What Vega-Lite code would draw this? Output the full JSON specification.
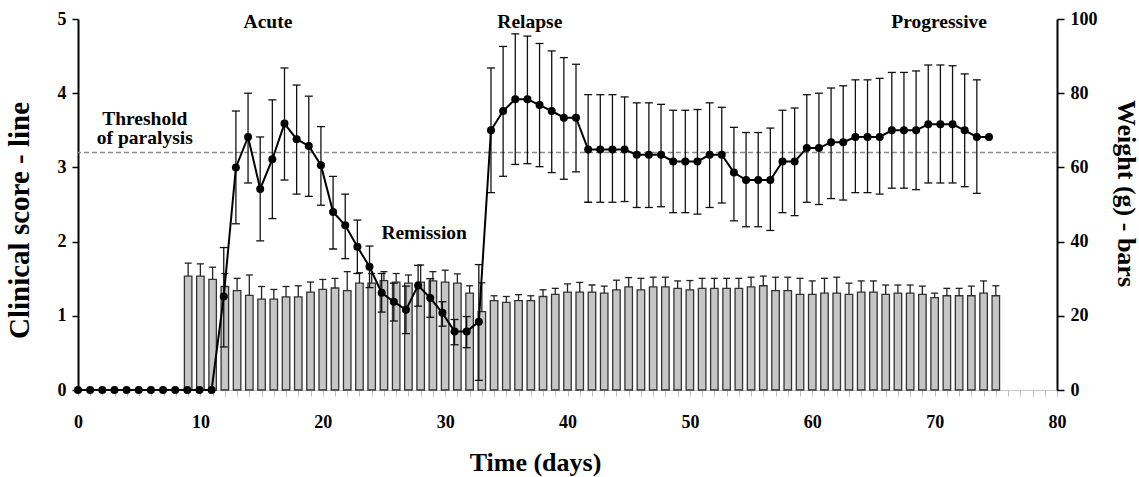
{
  "$schema": "https://vega.github.io/schema/vega-lite/v6.json",
  "width": 979,
  "height": 371,
  "autosize": {"type": "none"},
  "padding": {"left": 78, "top": 19, "right": 82, "bottom": 87},
  "background": "white",
  "config": {
    "view": {"stroke": null},
    "axis": {
      "grid": false,
      "labelFont": "Liberation Serif",
      "titleFont": "Liberation Serif",
      "labelFontWeight": "bold",
      "titleFontWeight": "bold",
      "labelColor": "#000",
      "titleColor": "#000",
      "labelFontSize": 18,
      "titleFontSize": 26
    }
  },
  "datasets": {
    "score": [
      {"day": 0, "score": 0, "lo": null, "hi": null},
      {"day": 1, "score": 0, "lo": null, "hi": null},
      {"day": 2, "score": 0, "lo": null, "hi": null},
      {"day": 3, "score": 0, "lo": null, "hi": null},
      {"day": 4, "score": 0, "lo": null, "hi": null},
      {"day": 5, "score": 0, "lo": null, "hi": null},
      {"day": 6, "score": 0, "lo": null, "hi": null},
      {"day": 7, "score": 0, "lo": null, "hi": null},
      {"day": 8, "score": 0, "lo": null, "hi": null},
      {"day": 9, "score": 0, "lo": null, "hi": null},
      {"day": 10, "score": 0, "lo": null, "hi": null},
      {"day": 11, "score": 0, "lo": null, "hi": null},
      {"day": 12, "score": 1.26, "lo": 0.58, "hi": 1.92},
      {"day": 13, "score": 3.0, "lo": 2.24, "hi": 3.76},
      {"day": 14, "score": 3.41, "lo": 2.79, "hi": 4.0},
      {"day": 15, "score": 2.71, "lo": 2.01, "hi": 3.41},
      {"day": 16, "score": 3.11, "lo": 2.31, "hi": 3.91},
      {"day": 17, "score": 3.59, "lo": 2.83, "hi": 4.34},
      {"day": 18, "score": 3.38, "lo": 2.64, "hi": 4.11},
      {"day": 19, "score": 3.29, "lo": 2.61, "hi": 3.96},
      {"day": 20, "score": 3.03, "lo": 2.49, "hi": 3.55},
      {"day": 21, "score": 2.4, "lo": 1.9, "hi": 2.88},
      {"day": 22, "score": 2.22, "lo": 1.77, "hi": 2.64},
      {"day": 23, "score": 1.93, "lo": 1.57, "hi": 2.29},
      {"day": 24, "score": 1.66, "lo": 1.38, "hi": 1.94},
      {"day": 25, "score": 1.31, "lo": 1.05, "hi": 1.57},
      {"day": 26, "score": 1.19, "lo": 0.93, "hi": 1.44},
      {"day": 27, "score": 1.08, "lo": 0.76, "hi": 1.4},
      {"day": 28, "score": 1.41, "lo": 1.13, "hi": 1.68},
      {"day": 29, "score": 1.24, "lo": 0.98, "hi": 1.5},
      {"day": 30, "score": 1.04, "lo": 0.86, "hi": 1.19},
      {"day": 31, "score": 0.79, "lo": 0.61, "hi": 0.95},
      {"day": 32, "score": 0.79, "lo": 0.57, "hi": 0.99},
      {"day": 33, "score": 0.92, "lo": 0.13, "hi": 1.69},
      {"day": 34, "score": 3.5, "lo": 2.66, "hi": 4.34},
      {"day": 35, "score": 3.76, "lo": 2.88, "hi": 4.63},
      {"day": 36, "score": 3.92, "lo": 3.04, "hi": 4.8},
      {"day": 37, "score": 3.92, "lo": 3.05, "hi": 4.77},
      {"day": 38, "score": 3.84, "lo": 3.01, "hi": 4.67},
      {"day": 39, "score": 3.76, "lo": 2.93, "hi": 4.57},
      {"day": 40, "score": 3.67, "lo": 2.84, "hi": 4.48},
      {"day": 41, "score": 3.67, "lo": 2.94, "hi": 4.39},
      {"day": 42, "score": 3.24, "lo": 2.53, "hi": 3.98},
      {"day": 43, "score": 3.24, "lo": 2.53, "hi": 3.98},
      {"day": 44, "score": 3.24, "lo": 2.53, "hi": 3.98},
      {"day": 45, "score": 3.24, "lo": 2.54, "hi": 3.95},
      {"day": 46, "score": 3.17, "lo": 2.46, "hi": 3.87},
      {"day": 47, "score": 3.17, "lo": 2.46, "hi": 3.87},
      {"day": 48, "score": 3.17, "lo": 2.47, "hi": 3.85},
      {"day": 49, "score": 3.08, "lo": 2.39, "hi": 3.77},
      {"day": 50, "score": 3.08, "lo": 2.39, "hi": 3.77},
      {"day": 51, "score": 3.08, "lo": 2.37, "hi": 3.78},
      {"day": 52, "score": 3.17, "lo": 2.46, "hi": 3.87},
      {"day": 53, "score": 3.17, "lo": 2.52, "hi": 3.81},
      {"day": 54, "score": 2.93, "lo": 2.28, "hi": 3.54},
      {"day": 55, "score": 2.83, "lo": 2.2, "hi": 3.47},
      {"day": 56, "score": 2.83, "lo": 2.2, "hi": 3.47},
      {"day": 57, "score": 2.83, "lo": 2.15, "hi": 3.53},
      {"day": 58, "score": 3.08, "lo": 2.39, "hi": 3.77},
      {"day": 59, "score": 3.08, "lo": 2.35, "hi": 3.8},
      {"day": 60, "score": 3.26, "lo": 2.53, "hi": 3.98},
      {"day": 61, "score": 3.26, "lo": 2.5, "hi": 4.0},
      {"day": 62, "score": 3.34, "lo": 2.58, "hi": 4.07},
      {"day": 63, "score": 3.34, "lo": 2.56, "hi": 4.1},
      {"day": 64, "score": 3.41, "lo": 2.66, "hi": 4.18},
      {"day": 65, "score": 3.41, "lo": 2.66, "hi": 4.18},
      {"day": 66, "score": 3.41, "lo": 2.64, "hi": 4.2},
      {"day": 67, "score": 3.5, "lo": 2.72, "hi": 4.28},
      {"day": 68, "score": 3.5, "lo": 2.72, "hi": 4.28},
      {"day": 69, "score": 3.5, "lo": 2.7, "hi": 4.3},
      {"day": 70, "score": 3.58, "lo": 2.79, "hi": 4.38},
      {"day": 71, "score": 3.58, "lo": 2.79, "hi": 4.38},
      {"day": 72, "score": 3.58, "lo": 2.79, "hi": 4.37},
      {"day": 73, "score": 3.5, "lo": 2.74, "hi": 4.26},
      {"day": 74, "score": 3.41, "lo": 2.65, "hi": 4.18},
      {"day": 75, "score": 3.41, "lo": null, "hi": null}
    ],
    "weight": [
      {"day": 9, "weight": 30.7, "top": 34.2},
      {"day": 10, "weight": 30.7, "top": 34.0},
      {"day": 11, "weight": 29.8, "top": 33.1},
      {"day": 12, "weight": 27.9, "top": 31.4},
      {"day": 13, "weight": 26.8, "top": 30.1},
      {"day": 14, "weight": 25.5, "top": 31.0},
      {"day": 15, "weight": 24.5, "top": 27.9},
      {"day": 16, "weight": 24.5, "top": 27.1},
      {"day": 17, "weight": 25.1, "top": 27.9},
      {"day": 18, "weight": 25.1, "top": 28.1},
      {"day": 19, "weight": 26.4, "top": 29.1},
      {"day": 20, "weight": 27.1, "top": 29.8},
      {"day": 21, "weight": 27.5, "top": 30.1},
      {"day": 22, "weight": 26.8, "top": 31.9},
      {"day": 23, "weight": 28.8, "top": 31.6},
      {"day": 24, "weight": 28.8, "top": 31.4},
      {"day": 25, "weight": 29.5, "top": 31.9},
      {"day": 26, "weight": 29.1, "top": 31.4},
      {"day": 27, "weight": 28.8, "top": 31.0},
      {"day": 28, "weight": 29.1, "top": 33.7},
      {"day": 29, "weight": 29.4, "top": 31.9},
      {"day": 30, "weight": 29.1, "top": 32.3},
      {"day": 31, "weight": 28.8, "top": 31.3},
      {"day": 32, "weight": 26.1, "top": 28.1},
      {"day": 33, "weight": 21.1, "top": 28.9},
      {"day": 34, "weight": 24.1, "top": 25.4},
      {"day": 35, "weight": 23.6, "top": 25.2},
      {"day": 36, "weight": 24.1, "top": 25.7},
      {"day": 37, "weight": 24.1, "top": 25.4},
      {"day": 38, "weight": 25.2, "top": 27.0},
      {"day": 39, "weight": 25.8, "top": 27.4},
      {"day": 40, "weight": 26.4, "top": 28.6},
      {"day": 41, "weight": 26.4, "top": 29.0},
      {"day": 42, "weight": 26.4, "top": 28.3},
      {"day": 43, "weight": 26.1, "top": 28.0},
      {"day": 44, "weight": 27.0, "top": 29.6},
      {"day": 45, "weight": 27.8, "top": 30.3},
      {"day": 46, "weight": 27.0, "top": 30.1},
      {"day": 47, "weight": 27.8, "top": 30.4},
      {"day": 48, "weight": 27.8, "top": 30.4},
      {"day": 49, "weight": 27.4, "top": 29.4},
      {"day": 50, "weight": 27.0, "top": 29.5},
      {"day": 51, "weight": 27.4, "top": 30.1},
      {"day": 52, "weight": 27.4, "top": 30.1},
      {"day": 53, "weight": 27.4, "top": 30.1},
      {"day": 54, "weight": 27.4, "top": 30.1},
      {"day": 55, "weight": 27.8, "top": 30.4},
      {"day": 56, "weight": 28.1, "top": 30.7},
      {"day": 57, "weight": 26.8, "top": 30.4},
      {"day": 58, "weight": 26.8, "top": 30.4},
      {"day": 59, "weight": 25.8, "top": 30.1},
      {"day": 60, "weight": 25.8, "top": 29.4},
      {"day": 61, "weight": 26.1, "top": 30.1},
      {"day": 62, "weight": 26.1, "top": 30.4},
      {"day": 63, "weight": 25.8, "top": 28.8},
      {"day": 64, "weight": 26.4, "top": 29.4},
      {"day": 65, "weight": 26.4, "top": 29.4},
      {"day": 66, "weight": 25.8, "top": 28.3},
      {"day": 67, "weight": 26.1, "top": 28.3},
      {"day": 68, "weight": 26.1, "top": 28.3},
      {"day": 69, "weight": 25.8, "top": 28.0},
      {"day": 70, "weight": 24.9, "top": 26.1},
      {"day": 71, "weight": 25.4, "top": 27.4},
      {"day": 72, "weight": 25.4, "top": 27.4},
      {"day": 73, "weight": 25.4, "top": 28.0},
      {"day": 74, "weight": 26.1, "top": 29.4},
      {"day": 75, "weight": 25.4, "top": 28.1}
    ]
  },
  "layer": [
    {
      "data": {"name": "weight"},
      "layer": [
        {
          "mark": {"type": "bar", "size": 7.5, "fill": "#c6c6c6", "stroke": "#333333", "strokeWidth": 1.3},
          "encoding": {
            "x": {
              "field": "day", "type": "quantitative",
              "scale": {"domain": [0, 80], "nice": false, "zero": false, "padding": 0},
              "title": "Time (days)",
              "axis": {
                "orient": "bottom", "tickCount": 80, "format": "d",
                "labelExpr": "datum.value % 10 === 0 ? datum.label : ''",
                "labelOverlap": false, "labelFlush": false, "labelBound": false,
                "domainColor": "#c8c8c8", "domainWidth": 1,
                "tickColor": "#bdbdbd", "tickSize": 6, "tickWidth": 1,
                "labelPadding": 17,
                "titleX": 457, "titleY": 80, "titleBaseline": "alphabetic", "titleAlign": "center"
              }
            },
            "y": {
              "field": "weight", "type": "quantitative",
              "scale": {"domain": [0, 100], "nice": false},
              "title": "Weight (g) - bars",
              "axis": {
                "orient": "right", "values": [0, 20, 40, 60, 80, 100], "format": "d",
                "domainColor": "#000", "domainWidth": 2,
                "tickColor": "#000", "tickWidth": 1.5, "tickSize": 7,
                "labelPadding": 6,
                "titleAngle": 90, "titleX": 68, "titleY": 174,
                "titleBaseline": "middle", "titleAlign": "center"
              }
            }
          }
        },
        {
          "mark": {"type": "rule", "color": "#222222", "strokeWidth": 1.3},
          "encoding": {
            "x": {"field": "day", "type": "quantitative", "scale": {"domain": [0, 80], "nice": false, "zero": false, "padding": 0}, "title": "Time (days)"},
            "y": {"field": "weight", "type": "quantitative", "scale": {"domain": [0, 100], "nice": false}, "title": "Weight (g) - bars"},
            "y2": {"field": "top"}
          }
        },
        {
          "mark": {"type": "tick", "orient": "horizontal", "size": 7, "thickness": 1.3, "color": "#222222", "opacity": 1},
          "encoding": {
            "x": {"field": "day", "type": "quantitative", "scale": {"domain": [0, 80], "nice": false, "zero": false, "padding": 0}, "title": "Time (days)"},
            "y": {"field": "top", "type": "quantitative", "scale": {"domain": [0, 100], "nice": false}, "title": "Weight (g) - bars"}
          }
        }
      ]
    },
    {
      "data": {"name": "score"},
      "layer": [
        {
          "data": {"values": [{}]},
          "mark": {"type": "rule", "stroke": "#8c8c8c", "strokeWidth": 1.4, "strokeDash": [5, 3]},
          "encoding": {
            "y": {"datum": 3.2, "type": "quantitative", "scale": {"domain": [0, 5], "nice": false}, "title": "Clinical score - line"}
          }
        },
        {
          "mark": {"type": "rule", "color": "#111111", "strokeWidth": 1.3},
          "encoding": {
            "x": {"field": "day", "type": "quantitative", "scale": {"domain": [0, 80.6], "nice": false, "zero": false, "padding": 0}, "axis": null},
            "y": {"field": "lo", "type": "quantitative", "scale": {"domain": [0, 5], "nice": false}, "title": "Clinical score - line"},
            "y2": {"field": "hi"}
          }
        },
        {
          "mark": {"type": "tick", "orient": "horizontal", "size": 8, "thickness": 1.3, "color": "#111111", "opacity": 1},
          "encoding": {
            "x": {"field": "day", "type": "quantitative", "scale": {"domain": [0, 80.6], "nice": false, "zero": false, "padding": 0}, "axis": null},
            "y": {"field": "lo", "type": "quantitative", "scale": {"domain": [0, 5], "nice": false}, "title": "Clinical score - line"}
          }
        },
        {
          "mark": {"type": "tick", "orient": "horizontal", "size": 8, "thickness": 1.3, "color": "#111111", "opacity": 1},
          "encoding": {
            "x": {"field": "day", "type": "quantitative", "scale": {"domain": [0, 80.6], "nice": false, "zero": false, "padding": 0}, "axis": null},
            "y": {"field": "hi", "type": "quantitative", "scale": {"domain": [0, 5], "nice": false}, "title": "Clinical score - line"}
          }
        },
        {
          "mark": {"type": "line", "color": "#000", "strokeWidth": 2},
          "encoding": {
            "x": {"field": "day", "type": "quantitative", "scale": {"domain": [0, 80.6], "nice": false, "zero": false, "padding": 0}, "axis": null},
            "y": {
              "field": "score", "type": "quantitative",
              "scale": {"domain": [0, 5], "nice": false},
              "title": "Clinical score - line",
              "axis": {
                "orient": "left", "values": [0, 1, 2, 3, 4, 5], "format": "d",
                "domainColor": "#000", "domainWidth": 2,
                "tickColor": "#000", "tickWidth": 1.5, "tickSize": 6,
                "labelPadding": 6,
                "titleFontSize": 29,
                "titleAngle": 270, "titleX": -59, "titleY": 201,
                "titleBaseline": "middle", "titleAlign": "center"
              }
            }
          }
        },
        {
          "mark": {"type": "point", "filled": true, "color": "#000", "size": 64, "opacity": 1},
          "encoding": {
            "x": {"field": "day", "type": "quantitative", "scale": {"domain": [0, 80.6], "nice": false, "zero": false, "padding": 0}, "axis": null},
            "y": {"field": "score", "type": "quantitative", "scale": {"domain": [0, 5], "nice": false}, "title": "Clinical score - line"}
          }
        },
        {
          "data": {"values": [{}]},
          "mark": {"type": "text", "text": "Acute", "font": "Liberation Serif", "fontWeight": "bold", "fontSize": 19.5, "align": "center", "baseline": "alphabetic", "color": "#000"},
          "encoding": {
            "x": {"datum": 15.64, "type": "quantitative", "axis": null},
            "y": {"datum": 4.88, "type": "quantitative", "title": "Clinical score - line"}
          }
        },
        {
          "data": {"values": [{}]},
          "mark": {"type": "text", "text": "Relapse", "font": "Liberation Serif", "fontWeight": "bold", "fontSize": 19.5, "align": "center", "baseline": "alphabetic", "color": "#000"},
          "encoding": {
            "x": {"datum": 37.2, "type": "quantitative", "axis": null},
            "y": {"datum": 4.88, "type": "quantitative", "title": "Clinical score - line"}
          }
        },
        {
          "data": {"values": [{}]},
          "mark": {"type": "text", "text": "Progressive", "font": "Liberation Serif", "fontWeight": "bold", "fontSize": 19.5, "align": "center", "baseline": "alphabetic", "color": "#000"},
          "encoding": {
            "x": {"datum": 70.9, "type": "quantitative", "axis": null},
            "y": {"datum": 4.88, "type": "quantitative", "title": "Clinical score - line"}
          }
        },
        {
          "data": {"values": [{}]},
          "mark": {"type": "text", "text": "Remission", "font": "Liberation Serif", "fontWeight": "bold", "fontSize": 19.5, "align": "center", "baseline": "alphabetic", "color": "#000"},
          "encoding": {
            "x": {"datum": 28.5, "type": "quantitative", "axis": null},
            "y": {"datum": 2.035, "type": "quantitative", "title": "Clinical score - line"}
          }
        },
        {
          "data": {"values": [{}]},
          "mark": {"type": "text", "text": "Threshold", "font": "Liberation Serif", "fontWeight": "bold", "fontSize": 19.5, "align": "center", "baseline": "alphabetic", "color": "#000"},
          "encoding": {
            "x": {"datum": 5.5, "type": "quantitative", "axis": null},
            "y": {"datum": 3.57, "type": "quantitative", "title": "Clinical score - line"}
          }
        },
        {
          "data": {"values": [{}]},
          "mark": {"type": "text", "text": "of paralysis", "font": "Liberation Serif", "fontWeight": "bold", "fontSize": 19.5, "align": "center", "baseline": "alphabetic", "color": "#000"},
          "encoding": {
            "x": {"datum": 5.5, "type": "quantitative", "axis": null},
            "y": {"datum": 3.31, "type": "quantitative", "title": "Clinical score - line"}
          }
        }
      ]
    }
  ],
  "resolve": {"scale": {"x": "independent", "y": "independent"}}
}
